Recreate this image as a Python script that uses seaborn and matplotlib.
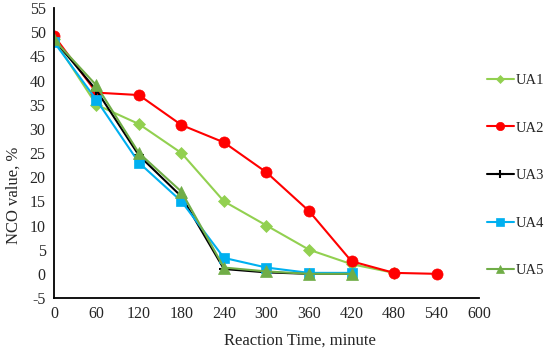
import numpy as np
import pandas as pd
import matplotlib
matplotlib.use("Agg")
import matplotlib.pyplot as plt
import seaborn as sns

# --- Data ---
time_min = [0, 60, 120, 180, 240, 300, 360, 420, 480, 540]
ua1 = [48.5, 35.0, 31.0, 25.0, 15.0, 10.0, 5.0, 2.0, 0.2, None]
ua2 = [49.3, 37.5, 37.0, 30.8, 27.2, 21.0, 13.0, 2.6, 0.2, 0.0]
ua3 = [48.5, 38.0, 24.5, 16.0, 1.0, 0.3, 0.0, 0.0, None, None]
ua4 = [48.0, 36.0, 23.0, 15.0, 3.3, 1.3, 0.2, 0.2, None, None]
ua5 = [48.5, 39.0, 25.0, 17.0, 1.3, 0.5, 0.0, 0.0, None, None]

series = {"UA1": ua1, "UA2": ua2, "UA3": ua3, "UA4": ua4, "UA5": ua5}
colors = {"UA1": "#92D050", "UA2": "#FF0000", "UA3": "#000000",
          "UA4": "#00B0F0", "UA5": "#70AD47"}
markers = {"UA1": "D", "UA2": "o", "UA3": "+", "UA4": "s", "UA5": "^"}
msizes = {"UA1": 6, "UA2": 8, "UA3": 7, "UA4": 7, "UA5": 8}

# --- Long format table ---
rows = []
for name, vals in series.items():
    for t, v in zip(time_min, vals):
        if v is not None:
            rows.append({"time": t, "nco": v, "sample": name})
df = pd.DataFrame(rows)

sns.set_style("white")
plt.rcParams["font.family"] = ["Liberation Serif", "DejaVu Serif"]
plt.rcParams["axes.unicode_minus"] = False

fig = plt.figure(figsize=(5.5, 3.51), dpi=100)
ax = fig.add_axes([0.098, 0.151, 0.773, 0.826])

for name in series:
    sub = df[df["sample"] == name]
    m = markers[name]
    sns.lineplot(data=sub, x="time", y="nco", ax=ax, color=colors[name],
                 marker=m, markersize=msizes[name], linewidth=1.5,
                 markeredgecolor=colors[name], label=name,
                 markeredgewidth=1.5 if m == "+" else 0.5)

ax.set_xlim(0, 600)
ax.set_ylim(-5, 55)
ax.set_xticks(np.arange(0, 601, 60))
ax.set_yticks(np.arange(-5, 56, 5))
ax.tick_params(length=0, labelsize=11.5, colors="#262626", pad=6)
for s in ["top", "right"]:
    ax.spines[s].set_visible(False)
for s in ["left", "bottom"]:
    ax.spines[s].set_color("black")
    ax.spines[s].set_linewidth(1.3)

ax.set_xlabel("Reaction Time, minute", fontsize=12, color="#262626")
ax.set_ylabel("NCO value, %", fontsize=12, color="#262626")
ax.xaxis.set_label_coords(0.579, -0.12)
ax.yaxis.set_label_coords(-0.076, 0.355)

handles, labels = ax.get_legend_handles_labels()
ax.legend_.remove()
leg = fig.legend(handles, labels, loc="upper left", bbox_to_anchor=(0.885, 0.79),
                 frameon=False, fontsize=10.5, labelspacing=2.36, handlelength=1.85,
                 handletextpad=0.15, borderpad=0, borderaxespad=0, markerscale=0.75)
for t in leg.get_texts():
    t.set_color("#262626")

fig.savefig("out.png", dpi=100)
